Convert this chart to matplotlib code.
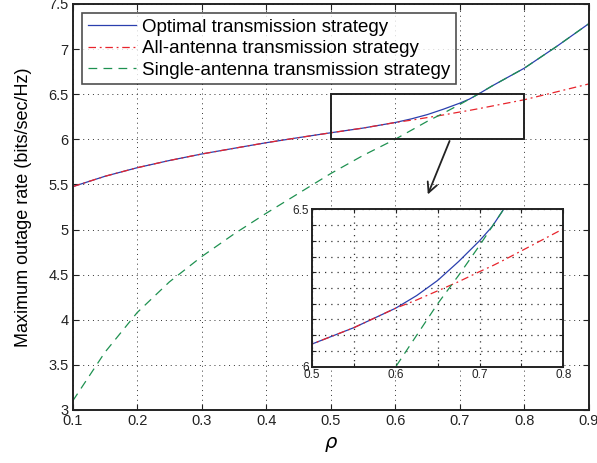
import matplotlib
matplotlib.use("Agg")
import matplotlib.pyplot as plt
from matplotlib.patches import Rectangle
from matplotlib.ticker import MultipleLocator, FixedLocator, FuncFormatter

plt.rcParams['font.family'] = ['Liberation Sans', 'DejaVu Sans']

rho = [0.1, 0.15, 0.2, 0.25, 0.3, 0.35, 0.4, 0.45, 0.5, 0.55, 0.6, 0.625,
       0.65, 0.675, 0.7, 0.715, 0.73, 0.75, 0.8, 0.85, 0.9]
optimal = [5.475, 5.59, 5.685, 5.765, 5.837, 5.90, 5.962, 6.018, 6.072, 6.124,
           6.186, 6.226, 6.274, 6.334, 6.400, 6.445, 6.505, 6.59, 6.787, 7.027, 7.28]
all_antenna = [5.475, 5.59, 5.685, 5.765, 5.837, 5.90, 5.962, 6.018, 6.072, 6.124,
               6.186, 6.212, 6.241, 6.27, 6.302, 6.32, 6.34, 6.368, 6.438, 6.525, 6.613]
single_antenna = [3.10, 3.64, 4.08, 4.42, 4.70, 4.95, 5.18, 5.40, 5.62, 5.82,
                  6.00, 6.10, 6.20, 6.29, 6.385, 6.445, 6.505, 6.59, 6.787, 7.027, 7.28]
labels = ['Optimal transmission strategy', 'All-antenna transmission strategy',
          'Single-antenna transmission strategy']
xticks = [0.1, 0.2, 0.3, 0.4, 0.5, 0.6, 0.7, 0.8, 0.9]
yticks = [3, 3.5, 4, 4.5, 5, 5.5, 6, 6.5, 7, 7.5]
zoom_x = (0.5, 0.8)
zoom_y = (6.0, 6.5)

c_blue = '#2a3fae'
c_red = '#e8242c'
c_green = '#1e9150'
grid_ls = (0, (1, 4))
red_ls = (0, (6, 3, 1.5, 3))
green_ls = (0, (7, 5))

fig = plt.figure(figsize=(5.97, 4.63), dpi=100)
ax = fig.add_axes([0.1218, 0.1145, 0.8642, 0.877])

def style(a, fs, glw=0.7):
    a.tick_params(direction='in', which='both', top=True, right=True,
                  length=4, width=0.8, labelsize=fs, colors='#222222', pad=3)
    for s in a.spines.values():
        s.set_linewidth(1.4)
        s.set_color('#222222')
        s.set_zorder(6)
    a.set_axisbelow(True)
    a.grid(True, color='#333333', linestyle=grid_ls, linewidth=glw)

ax.plot(rho, optimal, color=c_blue, lw=0.9, label=labels[0], zorder=3)
ax.plot(rho, all_antenna, color=c_red, lw=0.9, ls=red_ls, label=labels[1], zorder=4)
ax.plot(rho, single_antenna, color=c_green, lw=0.9, ls=green_ls, label=labels[2], zorder=4)
ax.set_xlim(0.1, 0.9)
ax.set_ylim(3, 7.5)
ax.xaxis.set_major_locator(FixedLocator(xticks))
ax.yaxis.set_major_locator(FixedLocator(yticks))
ax.yaxis.set_major_formatter(FuncFormatter(lambda v, p: f"{v:g}"))
ax.xaxis.set_major_formatter(FuncFormatter(lambda v, p: f"{v:g}"))
style(ax, 10.5)
ax.set_xlabel(r'$\rho$', fontsize=14, labelpad=5)
ax.set_ylabel('Maximum outage rate (bits/sec/Hz)', fontsize=13, labelpad=12)
leg = ax.legend(loc='upper left', fontsize=13.5, frameon=True, fancybox=False,
                edgecolor='#222222', borderpad=0.3, labelspacing=0.22,
                handlelength=2.6, handletextpad=0.3, borderaxespad=0.5)
leg.get_frame().set_linewidth(1.2)
leg.set_zorder(7)

ax.add_patch(Rectangle((zoom_x[0], zoom_y[0]), zoom_x[1] - zoom_x[0], zoom_y[1] - zoom_y[0],
                       fill=False, edgecolor='#222222', lw=1.4, zorder=5))
ax.annotate('', xy=(0.649, 5.36), xytext=(0.686, 6.01),
            arrowprops=dict(arrowstyle='->', color='#222222', lw=1.3,
                            mutation_scale=18), zorder=5)

ins = fig.add_axes([0.5226, 0.208, 0.421, 0.340])
ins.plot(rho, optimal, color=c_blue, lw=0.9, zorder=3)
ins.plot(rho, all_antenna, color=c_red, lw=0.9, ls=red_ls, zorder=4)
ins.plot(rho, single_antenna, color=c_green, lw=0.9, ls=green_ls, zorder=4)
ins.set_xlim(*zoom_x)
ins.set_ylim(*zoom_y)
ins.xaxis.set_major_locator(MultipleLocator(0.05))
ins.yaxis.set_major_locator(MultipleLocator(0.05))
ins.xaxis.set_major_formatter(FuncFormatter(
    lambda v, p: f"{v:.1f}" if abs(v * 10 - round(v * 10)) < 1e-6 else ""))
ins.yaxis.set_major_formatter(FuncFormatter(
    lambda v, p: f"{v:g}" if abs(v * 2 - round(v * 2)) < 1e-6 else ""))
style(ins, 8.5, glw=0.9)
ins.tick_params(length=3, pad=2)

fig.savefig('out.png', dpi=100)
